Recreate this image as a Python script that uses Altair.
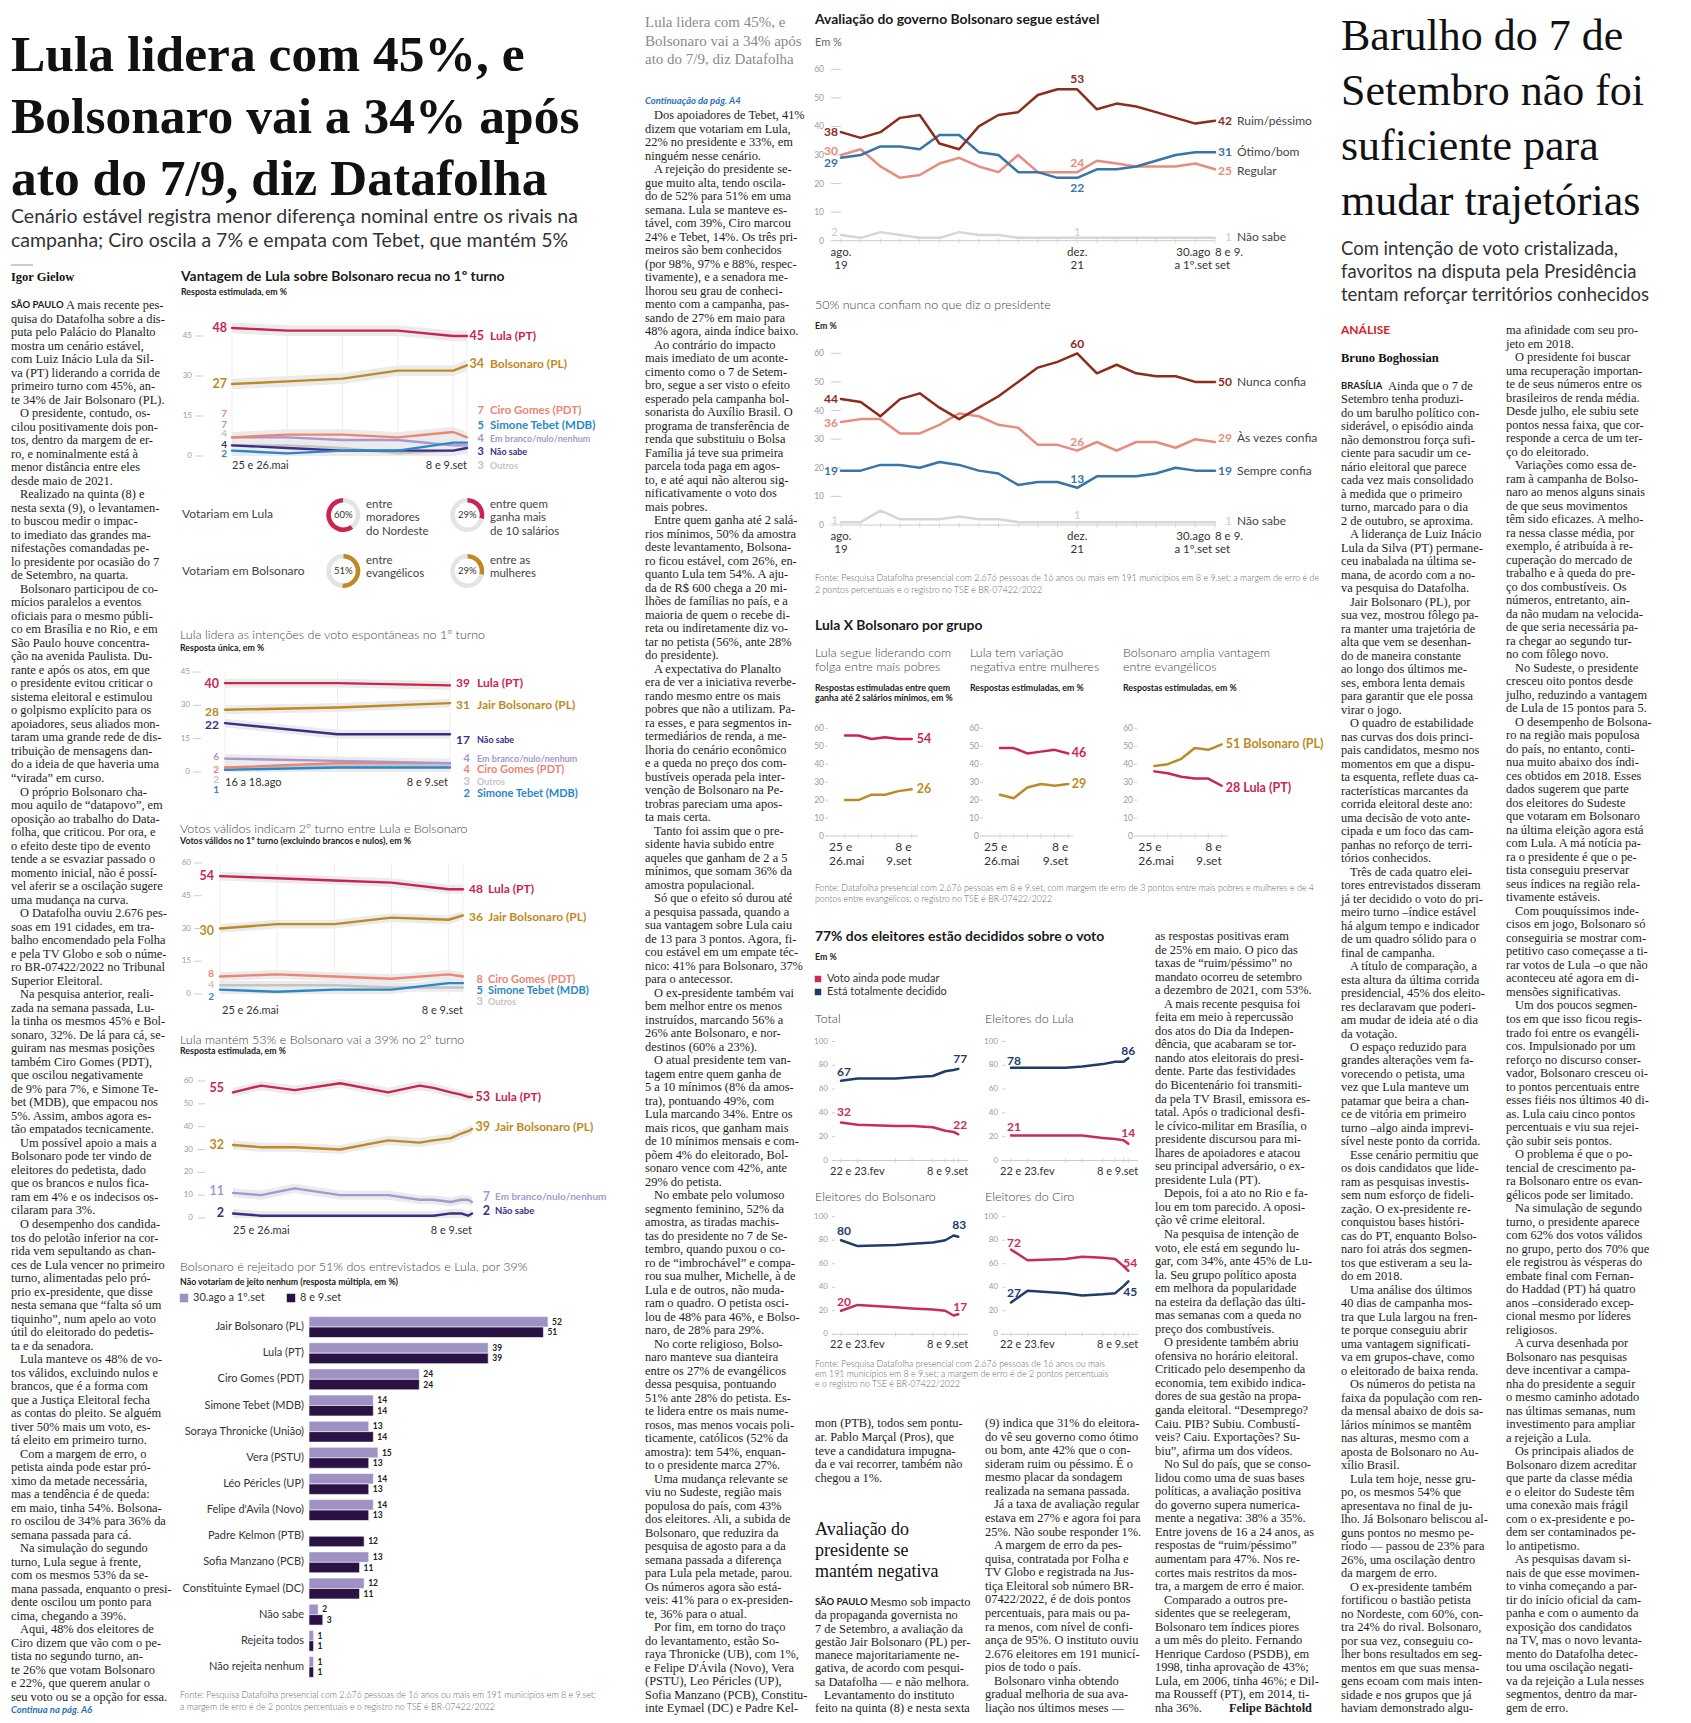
import altair as alt
import pandas as pd

# ============================ DADOS ============================
# 1) Vantagem de Lula sobre Bolsonaro recua no 1º turno (resposta estimulada, %)
g1_rodada = [0, 1, 2, 3, 4, 4.25]
g1_lula = [48, 47, 47, 47, 45, 45]
g1_bolsonaro = [27, 28, 29, 32, 32, 34]
g1_ciro = [7, 8, 8, 7, 9, 7]
g1_tebet = [2, 1, 2, 2, 5, 5]
g1_branco = [7, 7, 6, 6, 4, 4]
g1_nao_sabe = [4, 3, 2, 2, 2, 3]
g1_outros = [4, 4, 3, 1, 2, 3]

# Votariam em Lula / Bolsonaro (donuts, %)
donut_pct = [60, 29, 51, 29]

# 2) Intenções de voto espontâneas no 1º turno
g2_rodada = [0, 1, 2]
g2_lula = [40, 40, 39]
g2_bolsonaro = [28, 29, 31]
g2_nao_sabe = [22, 17, 17]
g2_branco = [6, 5, 4]
g2_ciro = [2, 4, 4]
g2_outros = [2, 3, 3]
g2_tebet = [1, 2, 2]

# 3) Votos válidos no 1º turno
g3_rodada = [0, 1, 2, 3, 4, 4.25]
g3_lula = [54, 53, 52, 51, 48, 48]
g3_bolsonaro = [30, 32, 32, 35, 34, 36]
g3_ciro = [8, 9, 8, 7, 9, 8]
g3_tebet = [2, 1, 2, 2, 5, 5]
g3_outros = [4, 4, 4, 3, 3, 3]

# 4) 2º turno
g4_datas = ["2021-05-12", "2021-07-08", "2021-09-14", "2021-12-15", "2022-03-22", "2022-05-25",
            "2022-06-22", "2022-07-27", "2022-08-17", "2022-08-31", "2022-09-08"]
g4_lula = [55, 58, 56, 59, 55, 58, 57, 55, 54, 53, 53]
g4_bolsonaro = [32, 31, 31, 30, 34, 33, 34, 35, 37, 38, 39]
g4_branco = [11, 10, 13, 10, 10, 8, 8, 7, 8, 8, 7]
g4_nao_sabe = [2, 1, 1, 1, 1, 1, 1, 2, 2, 1, 2]

# 5) Rejeição
g5_candidatos = ["Jair Bolsonaro (PL)", "Lula (PT)", "Ciro Gomes (PDT)", "Simone Tebet (MDB)",
                 "Soraya Thronicke (União)", "Vera (PSTU)", "Léo Péricles (UP)", "Felipe d'Avila (Novo)",
                 "Padre Kelmon (PTB)", "Sofia Manzano (PCB)", "Constituinte Eymael (DC)", "Não sabe",
                 "Rejeita todos", "Não rejeita nenhum"]
g5_ago = [52, 39, 24, 14, 13, 15, 14, 14, None, 13, 12, 2, 1, 1]
g5_set = [51, 39, 24, 14, 14, 13, 13, 13, 12, 11, 11, 3, 1, 1]

# 6) Avaliação do governo
g6_rodada = list(range(20))
g6_ruim = [38, 36, 38, 43, 44, 34, 32, 40, 44, 45, 51, 53, 53, 46, 48, 47, 45, 43, 41, 42]
g6_otimo = [29, 30, 33, 33, 32, 37, 37, 31, 30, 24, 24, 22, 22, 25, 25, 26, 28, 30, 31, 31]
g6_regular = [30, 32, 26, 22, 23, 27, 29, 26, 24, 30, 24, 24, 24, 28, 27, 26, 26, 26, 27, 25]
g6_nao_sabe = [2, 1, 3, 2, 1, 1, 3, 2, 2, 1, 1, 1, 1, 1, 1, 1, 1, 1, 1, 1]

# 7) Confiança no presidente
g7_nunca = [44, 43, 38, 44, 46, 41, 37, 41, 45, 50, 55, 57, 60, 53, 56, 53, 52, 52, 50, 50]
g7_as_vezes = [36, 37, 37, 32, 32, 35, 39, 38, 35, 34, 28, 28, 26, 29, 26, 29, 29, 27, 30, 29]
g7_sempre = [19, 19, 21, 21, 20, 22, 21, 19, 18, 14, 15, 15, 13, 17, 17, 17, 18, 20, 19, 19]
g7_nao_sabe = [1, 1, 5, 2, 2, 2, 3, 2, 2, 1, 1, 1, 1, 1, 1, 1, 1, 1, 1, 1]

# 8) Lula X Bolsonaro por grupo
g8_rodada = [0, 1, 2, 3, 4, 5]
g8_pobres_lula = [56, 56, 54, 55, 54, 54]
g8_pobres_bolsonaro = [20, 20, 23, 23, 25, 26]
g8_mulheres_lula = [49, 49, 46, 47, 48, 46]
g8_mulheres_bolsonaro = [23, 21, 27, 29, 28, 29]
g8_evang_bolsonaro = [39, 40, 43, 49, 48, 51]
g8_evang_lula = [36, 35, 33, 32, 32, 28]

# 9) Decisão do voto
g9_datas = ["2022-02-22", "2022-03-22", "2022-05-25", "2022-06-22", "2022-07-27", "2022-08-17",
            "2022-08-31", "2022-09-08"]
g9_total_decidido = [67, 69, 69, 70, 71, 75, 76, 77]
g9_total_mudar = [32, 30, 29, 29, 28, 25, 24, 22]
g9_lula_decidido = [78, 78, 78, 79, 81, 83, 83, 86]
g9_lula_mudar = [21, 21, 21, 21, 19, 18, 17, 14]
g9_bolso_decidido = [80, 75, 76, 77, 78, 80, 84, 83]
g9_bolso_mudar = [20, 25, 23, 22, 21, 20, 16, 17]
g9_ciro_decidido = [27, 37, 35, 33, 34, 35, 41, 45]
g9_ciro_mudar = [72, 63, 64, 66, 65, 64, 58, 54]

# ============================ TEXTOS ============================
COL_ESQ = [
"#SÃO PAULO|55|A mais recente pes-", "quisa do Datafolha sobre a dis-", "puta pelo Palácio do Planalto",
"mostra um cenário estável,", "com Luiz Inácio Lula da Sil-", "va (PT) liderando a corrida de",
"primeiro turno com 45%, an-", "te 34% de Jair Bolsonaro (PL).", ">O presidente, contudo, os-",
"cilou positivamente dois pon-", "tos, dentro da margem de er-", "ro, e nominalmente está à",
"menor distância entre eles", "desde maio de 2021.", ">Realizado na quinta (8) e",
"nesta sexta (9), o levantamen-", "to buscou medir o impac-", "to imediato das grandes ma-",
"nifestações comandadas pe-", "lo presidente por ocasião do 7", "de Setembro, na quarta.",
">Bolsonaro participou de co-", "mícios paralelos a eventos", "oficiais para o mesmo públi-",
"co em Brasília e no Rio, e em", "São Paulo houve concentra-", "ção na avenida Paulista. Du-",
"rante e após os atos, em que", "o presidente evitou criticar o", "sistema eleitoral e estimulou",
"o golpismo explícito para os", "apoiadores, seus aliados mon-", "taram uma grande rede de dis-",
"tribuição de mensagens dan-", "do a ideia de que haveria uma", "“virada” em curso.",
">O próprio Bolsonaro cha-", "mou aquilo de “datapovo”, em", "oposição ao trabalho do Data-",
"folha, que criticou. Por ora, e", "o efeito deste tipo de evento", "tende a se esvaziar passado o",
"momento inicial, não é possí-", "vel aferir se a oscilação sugere", "uma mudança na curva.",
">O Datafolha ouviu 2.676 pes-", "soas em 191 cidades, em tra-", "balho encomendado pela Folha",
"e pela TV Globo e sob o núme-", "ro BR-07422/2022 no Tribunal", "Superior Eleitoral.",
">Na pesquisa anterior, reali-", "zada na semana passada, Lu-", "la tinha os mesmos 45% e Bol-",
"sonaro, 32%. De lá para cá, se-", "guiram nas mesmas posições", "também Ciro Gomes (PDT),",
"que oscilou negativamente", "de 9% para 7%, e Simone Te-", "bet (MDB), que empacou nos",
"5%. Assim, ambos agora es-", "tão empatados tecnicamente.", ">Um possível apoio a mais a",
"Bolsonaro pode ter vindo de", "eleitores do pedetista, dado", "que os brancos e nulos fica-",
"ram em 4% e os indecisos os-", "cilaram para 3%.", ">O desempenho dos candida-",
"tos do pelotão inferior na cor-", "rida vem sepultando as chan-", "ces de Lula vencer no primeiro",
"turno, alimentadas pelo pró-", "prio ex-presidente, que disse", "nesta semana que “falta só um",
"tiquinho”, num apelo ao voto", "útil do eleitorado do pedetis-", "ta e da senadora.",
">Lula manteve os 48% de vo-", "tos válidos, excluindo nulos e", "brancos, que é a forma com",
"que a Justiça Eleitoral fecha", "as contas do pleito. Se alguém", "tiver 50% mais um voto, es-",
"tá eleito em primeiro turno.", ">Com a margem de erro, o", "petista ainda pode estar pró-",
"ximo da metade necessária,", "mas a tendência é de queda:", "em maio, tinha 54%. Bolsona-",
"ro oscilou de 34% para 36% da", "semana passada para cá.", ">Na simulação do segundo",
"turno, Lula segue à frente,", "com os mesmos 53% da se-", "mana passada, enquanto o presi-",
"dente oscilou um ponto para", "cima, chegando a 39%.", ">Aqui, 48% dos eleitores de",
"Ciro dizem que vão com o pe-", "tista no segundo turno, an-", "te 26% que votam Bolsonaro",
"e 22%, que querem anular o", "seu voto ou se a opção for essa.",
]

COL_MEIO = [
">Dos apoiadores de Tebet, 41%", "dizem que votariam em Lula,", "22% no presidente e 33%, em",
"ninguém nesse cenário.", ">A rejeição do presidente se-", "gue muito alta, tendo oscila-",
"do de 52% para 51% em uma", "semana. Lula se manteve es-", "tável, com 39%, Ciro marcou",
"24% e Tebet, 14%. Os três pri-", "meiros são bem conhecidos", "(por 98%, 97% e 88%, respec-",
"tivamente), e a senadora me-", "lhorou seu grau de conheci-", "mento com a campanha, pas-",
"sando de 27% em maio para", "48% agora, ainda índice baixo.", ">Ao contrário do impacto",
"mais imediato de um aconte-", "cimento como o 7 de Setem-", "bro, segue a ser visto o efeito",
"esperado pela campanha bol-", "sonarista do Auxílio Brasil. O", "programa de transferência de",
"renda que substituiu o Bolsa", "Família já teve sua primeira", "parcela toda paga em agos-",
"to, e até aqui não alterou sig-", "nificativamente o voto dos", "mais pobres.",
">Entre quem ganha até 2 salá-", "rios mínimos, 50% da amostra", "deste levantamento, Bolsona-",
"ro ficou estável, com 26%, en-", "quanto Lula tem 54%. A aju-", "da de R$ 600 chega a 20 mi-",
"lhões de famílias no país, e a", "maioria de quem o recebe di-", "reta ou indiretamente diz vo-",
"tar no petista (56%, ante 28%", "do presidente).", ">A expectativa do Planalto",
"era de ver a iniciativa reverbe-", "rando mesmo entre os mais", "pobres que não a utilizam. Pa-",
"ra esses, e para segmentos in-", "termediários de renda, a me-", "lhoria do cenário econômico",
"e a queda no preço dos com-", "bustíveis operada pela inter-", "venção de Bolsonaro na Pe-",
"trobras pareciam uma apos-", "ta mais certa.", ">Tanto foi assim que o pre-",
"sidente havia subido entre", "aqueles que ganham de 2 a 5", "mínimos, que somam 36% da",
"amostra populacional.", ">Só que o efeito só durou até", "a pesquisa passada, quando a",
"sua vantagem sobre Lula caiu", "de 13 para 3 pontos. Agora, fi-", "cou estável em um empate téc-",
"nico: 41% para Bolsonaro, 37%", "para o antecessor.", ">O ex-presidente também vai",
"bem melhor entre os menos", "instruídos, marcando 56% a", "26% ante Bolsonaro, e nor-",
"destinos (60% a 23%).", ">O atual presidente tem van-", "tagem entre quem ganha de",
"5 a 10 mínimos (8% da amos-", "tra), pontuando 49%, com", "Lula marcando 34%. Entre os",
"mais ricos, que ganham mais", "de 10 mínimos mensais e com-", "põem 4% do eleitorado, Bol-",
"sonaro vence com 42%, ante", "29% do petista.", ">No embate pelo volumoso",
"segmento feminino, 52% da", "amostra, as tiradas machis-", "tas do presidente no 7 de Se-",
"tembro, quando puxou o co-", "ro de “imbrochável” e compa-", "rou sua mulher, Michelle, à de",
"Lula e de outros, não muda-", "ram o quadro. O petista osci-", "lou de 48% para 46%, e Bolso-",
"naro, de 28% para 29%.", ">No corte religioso, Bolso-", "naro manteve sua dianteira",
"entre os 27% de evangélicos", "dessa pesquisa, pontuando", "51% ante 28% do petista. Es-",
"te lidera entre os mais nume-", "rosos, mas menos vocais poli-", "ticamente, católicos (52% da",
"amostra): tem 54%, enquan-", "to o presidente marca 27%.", ">Uma mudança relevante se",
"viu no Sudeste, região mais", "populosa do país, com 43%", "dos eleitores. Ali, a subida de",
"Bolsonaro, que reduzira da", "pesquisa de agosto para a da", "semana passada a diferença",
"para Lula pela metade, parou.", "Os números agora são está-", "veis: 41% para o ex-presiden-",
"te, 36% para o atual.", ">Por fim, em torno do traço", "do levantamento, estão So-",
"raya Thronicke (UB), com 1%,", "e Felipe D'Ávila (Novo), Vera", "(PSTU), Leo Péricles (UP),",
"Sofia Manzano (PCB), Constitu-", "inte Eymael (DC) e Padre Kel-",
]

COL_C = [
"as respostas positivas eram", "de 25% em maio. O pico das", "taxas de “ruim/péssimo” no",
"mandato ocorreu de setembro", "a dezembro de 2021, com 53%.", ">A mais recente pesquisa foi",
"feita em meio à repercussão", "dos atos do Dia da Indepen-", "dência, que acabaram se tor-",
"nando atos eleitorais do presi-", "dente. Parte das festividades", "do Bicentenário foi transmiti-",
"da pela TV Brasil, emissora es-", "tatal. Após o tradicional desfi-", "le cívico-militar em Brasília, o",
"presidente discursou para mi-", "lhares de apoiadores e atacou", "seu principal adversário, o ex-",
"presidente Lula (PT).", ">Depois, foi a ato no Rio e fa-", "lou em tom parecido. A oposi-",
"ção vê crime eleitoral.", ">Na pesquisa de intenção de", "voto, ele está em segundo lu-",
"gar, com 34%, ante 45% de Lu-", "la. Seu grupo político aposta", "em melhora da popularidade",
"na esteira da deflação das últi-", "mas semanas com a queda no", "preço dos combustíveis.",
">O presidente também abriu", "ofensiva no horário eleitoral.", "Criticado pelo desempenho da",
"economia, tem exibido indica-", "dores de sua gestão na propa-", "ganda eleitoral. “Desemprego?",
"Caiu. PIB? Subiu. Combustí-", "veis? Caiu. Exportações? Su-", "biu”, afirma um dos vídeos.",
">No Sul do país, que se conso-", "lidou como uma de suas bases", "políticas, a avaliação positiva",
"do governo supera numerica-", "mente a negativa: 38% a 35%.", "Entre jovens de 16 a 24 anos, as",
"respostas de “ruim/péssimo”", "aumentam para 47%. Nos re-", "cortes mais restritos da mos-",
"tra, a margem de erro é maior.", ">Comparado a outros pre-", "sidentes que se reelegeram,",
"Bolsonaro tem índices piores", "a um mês do pleito. Fernando", "Henrique Cardoso (PSDB), em",
"1998, tinha aprovação de 43%;", "Lula, em 2006, tinha 46%; e Dil-", "ma Rousseff (PT), em 2014, ti-",
"nha 36%.",
]

COL_A1 = ["mon (PTB), todos sem pontu-", "ar. Pablo Marçal (Pros), que", "teve a candidatura impugna-",
          "da e vai recorrer, também não", "chegou a 1%."]
COL_A2 = ["#SÃO PAULO|55|Mesmo sob impacto", "da propaganda governista no", "7 de Setembro, a avaliação da",
          "gestão Jair Bolsonaro (PL) per-", "manece majoritariamente ne-", "gativa, de acordo com pesqui-",
          "sa Datafolha — e não melhora.", ">Levantamento do instituto", "feito na quinta (8) e nesta sexta"]
COL_B = [
"(9) indica que 31% do eleitora-", "do vê seu governo como ótimo", "ou bom, ante 42% que o con-",
"sideram ruim ou péssimo. É o", "mesmo placar da sondagem", "realizada na semana passada.",
">Já a taxa de avaliação regular", "estava em 27% e agora foi para", "25%. Não soube responder 1%.",
">A margem de erro da pes-", "quisa, contratada por Folha e", "TV Globo e registrada na Jus-",
"tiça Eleitoral sob número BR-", "07422/2022, é de dois pontos", "percentuais, para mais ou pa-",
"ra menos, com nível de confi-", "ança de 95%. O instituto ouviu", "2.676 eleitores em 191 municí-",
"pios de todo o país.", ">Bolsonaro vinha obtendo", "gradual melhoria de sua ava-",
"liação nos últimos meses —",
]

COL_R1 = [
"#BRASÍLIA|47|Ainda que o 7 de", "Setembro tenha produzi-", "do um barulho político con-",
"siderável, o episódio ainda", "não demonstrou força sufi-", "ciente para sacudir um ce-",
"nário eleitoral que parece", "cada vez mais consolidado", "à medida que o primeiro",
"turno, marcado para o dia", "2 de outubro, se aproxima.", ">A liderança de Luiz Inácio",
"Lula da Silva (PT) permane-", "ceu inabalada na última se-", "mana, de acordo com a no-",
"va pesquisa do Datafolha.", ">Jair Bolsonaro (PL), por", "sua vez, mostrou fôlego pa-",
"ra manter uma trajetória de", "alta que vem se desenhan-", "do de maneira constante",
"ao longo dos últimos me-", "ses, embora lenta demais", "para garantir que ele possa",
"virar o jogo.", ">O quadro de estabilidade", "nas curvas dos dois princi-",
"pais candidatos, mesmo nos", "momentos em que a dispu-", "ta esquenta, reflete duas ca-",
"racterísticas marcantes da", "corrida eleitoral deste ano:", "uma decisão de voto ante-",
"cipada e um foco das cam-", "panhas no reforço de terri-", "tórios conhecidos.",
">Três de cada quatro elei-", "tores entrevistados disseram", "já ter decidido o voto do pri-",
"meiro turno –índice estável", "há algum tempo e indicador", "de um quadro sólido para o",
"final de campanha.", ">A título de comparação, a", "esta altura da última corrida",
"presidencial, 45% dos eleito-", "res declaravam que poderi-", "am mudar de ideia até o dia",
"da votação.", ">O espaço reduzido para", "grandes alterações vem fa-",
"vorecendo o petista, uma", "vez que Lula manteve um", "patamar que beira a chan-",
"ce de vitória em primeiro", "turno –algo ainda imprevi-", "sível neste ponto da corrida.",
">Esse cenário permitiu que", "os dois candidatos que lide-", "ram as pesquisas investis-",
"sem num esforço de fideli-", "zação. O ex-presidente re-", "conquistou bases históri-",
"cas do PT, enquanto Bolso-", "naro foi atrás dos segmen-", "tos que estiveram a seu la-",
"do em 2018.", ">Uma análise dos últimos", "40 dias de campanha mos-",
"tra que Lula largou na fren-", "te porque conseguiu abrir", "uma vantagem significati-",
"va em grupos-chave, como", "o eleitorado de baixa renda.", ">Os números do petista na",
"faixa da população com ren-", "da mensal abaixo de dois sa-", "lários mínimos se mantêm",
"nas alturas, mesmo com a", "aposta de Bolsonaro no Au-", "xílio Brasil.",
">Lula tem hoje, nesse gru-", "po, os mesmos 54% que", "apresentava no final de ju-",
"lho. Já Bolsonaro beliscou al-", "guns pontos no mesmo pe-", "ríodo — passou de 23% para",
"26%, uma oscilação dentro", "da margem de erro.", ">O ex-presidente também",
"fortificou o bastião petista", "no Nordeste, com 60%, con-", "tra 24% do rival. Bolsonaro,",
"por sua vez, conseguiu co-", "lher bons resultados em seg-", "mentos em que suas mensa-",
"gens ecoam com mais inten-", "sidade e nos grupos que já", "haviam demonstrado algu-",
]

COL_R2 = [
"ma afinidade com seu pro-", "jeto em 2018.", ">O presidente foi buscar",
"uma recuperação importan-", "te de seus números entre os", "brasileiros de renda média.",
"Desde julho, ele subiu sete", "pontos nessa faixa, que cor-", "responde a cerca de um ter-",
"ço do eleitorado.", ">Variações como essa de-", "ram à campanha de Bolso-",
"naro ao menos alguns sinais", "de que seus movimentos", "têm sido eficazes. A melho-",
"ra nessa classe média, por", "exemplo, é atribuída à re-", "cuperação do mercado de",
"trabalho e à queda do pre-", "ço dos combustíveis. Os", "números, entretanto, ain-",
"da não mudam na velocida-", "de que seria necessária pa-", "ra chegar ao segundo tur-",
"no com fôlego novo.", ">No Sudeste, o presidente", "cresceu oito pontos desde",
"julho, reduzindo a vantagem", "de Lula de 15 pontos para 5.", ">O desempenho de Bolsona-",
"ro na região mais populosa", "do país, no entanto, conti-", "nua muito abaixo dos índi-",
"ces obtidos em 2018. Esses", "dados sugerem que parte", "dos eleitores do Sudeste",
"que votaram em Bolsonaro", "na última eleição agora está", "com Lula. A má notícia pa-",
"ra o presidente é que o pe-", "tista conseguiu preservar", "seus índices na região rela-",
"tivamente estáveis.", ">Com pouquíssimos inde-", "cisos em jogo, Bolsonaro só",
"conseguiria se mostrar com-", "petitivo caso começasse a ti-", "rar votos de Lula –o que não",
"aconteceu até agora em di-", "mensões significativas.", ">Um dos poucos segmen-",
"tos em que isso ficou regis-", "trado foi entre os evangéli-", "cos. Impulsionado por um",
"reforço no discurso conser-", "vador, Bolsonaro cresceu oi-", "to pontos percentuais entre",
"esses fiéis nos últimos 40 di-", "as. Lula caiu cinco pontos", "percentuais e viu sua rejei-",
"ção subir seis pontos.", ">O problema é que o po-", "tencial de crescimento pa-",
"ra Bolsonaro entre os evan-", "gélicos pode ser limitado.", ">Na simulação de segundo",
"turno, o presidente aparece", "com 62% dos votos válidos", "no grupo, perto dos 70% que",
"ele registrou às vésperas do", "embate final com Fernan-", "do Haddad (PT) há quatro",
"anos –considerado excep-", "cional mesmo por líderes", "religiosos.",
">A curva desenhada por", "Bolsonaro nas pesquisas", "deve incentivar a campa-",
"nha do presidente a seguir", "o mesmo caminho adotado", "nas últimas semanas, num",
"investimento para ampliar", "a rejeição a Lula.", ">Os principais aliados de",
"Bolsonaro dizem acreditar", "que parte da classe média", "e o eleitor do Sudeste têm",
"uma conexão mais frágil", "com o ex-presidente e po-", "dem ser contaminados pe-",
"lo antipetismo.", ">As pesquisas davam si-", "nais de que esse movimen-",
"to vinha começando a par-", "tir do início oficial da cam-", "panha e com o aumento da",
"exposição dos candidatos", "na TV, mas o novo levanta-", "mento do Datafolha detec-",
"tou uma oscilação negati-", "va da rejeição a Lula nesses", "segmentos, dentro da mar-",
"gem de erro.",
]

# ============================ ESTILO / LAYOUT ============================
W, H = 1675, 1707
SANS = "Lato"
SERIF = "Liberation Serif"
LULA = "#c8264f"; BOLSO = "#bd8a24"; CIRO = "#ec8574"; TEBET = "#2b87c6"
BRANCO = "#a897cd"; NSABE = "#3f2c85"; OUTROS = "#c4c4c4"
RUIM = "#8d2b1c"; OTIMO = "#3874a7"; REGULAR = "#e88c7e"; NSGRAY = "#d6d6d6"
MUDAR = "#c72d55"; DECIDIDO = "#1d3d6b"
BAR_A = "#9e91c4"; BAR_B = "#2a1244"
BLUE_LINK = "#2d6fb7"


def px(x):
    return x - 8


def py(y):
    return y - 8


def T(items, fs, font=SANS, fw="normal", color="#222222", align="left", baseline="middle", style="normal"):
    df = pd.DataFrame([{"x": px(x), "y": py(y), "t": t} for x, y, t in items])
    return alt.Chart(df).mark_text(align=align, baseline=baseline, fontSize=fs, font=font, fontWeight=fw,
                                   color=color, fontStyle=style).encode(
        x=alt.X("x:Q", scale=None, axis=None), y=alt.Y("y:Q", scale=None, axis=None), text="t:N")


def body(lines, x, y0, y1, fs=12.4, indent=9):
    n = len(lines)
    step = (y1 - y0) / (n - 1) if n > 1 else 0
    reg, bold = [], []
    for i, ln in enumerate(lines):
        y = y0 + i * step
        if ln.startswith("#"):
            lead, w, rest = ln[1:].split("|")
            bold.append((x, y, lead))
            reg.append((x + float(w), y, rest))
        elif ln.startswith(">"):
            reg.append((x + indent, y, ln[1:]))
        else:
            reg.append((x, y, ln))
    out = [T(reg, fs, font=SERIF, color="#1c1c1c")]
    if bold:
        out.append(T(bold, 9.5, font=SANS, fw="bold", color="#1c1c1c"))
    return out, step


def line_panel(series, xvals, xr, ydom, yr, ticks=None, tick_lx=None, dash=None, band=False,
               grid=False, base=None, base_ticks=False, lw=2.4, tick_fs=8):
    xsc = alt.Scale(domain=[min(xvals), max(xvals)], range=[px(xr[0]), px(xr[1])], nice=False, zero=False)
    ysc = alt.Scale(domain=list(ydom), range=[py(yr[0]), py(yr[1])], nice=False, zero=False)
    XE = alt.X("x:Q", scale=xsc, axis=None)
    rows = [{"s": n, "x": xv, "v": v} for n, vals, c in series for xv, v in zip(xvals, vals)]
    df = pd.DataFrame(rows)
    L = []
    if ticks:
        tdf = pd.DataFrame({"t": ticks})
        YT = alt.Y("t:Q", scale=ysc, axis=None)
        if dash:
            L.append(alt.Chart(tdf).mark_rule(color="#cccccc", strokeWidth=1).encode(
                y=YT, x=alt.value(px(dash[0])), x2=alt.value(px(dash[1]))))
        L.append(alt.Chart(tdf).mark_text(align="right", baseline="middle", font=SANS, fontSize=tick_fs,
                                          color="#9b9b9b").encode(y=YT, x=alt.value(px(tick_lx)), text="t:Q"))
    if grid:
        gdf = pd.DataFrame({"x": xvals, "y0": ydom[0], "y1": ydom[1]})
        L.append(alt.Chart(gdf).mark_rule(color="#ededed", strokeWidth=1).encode(
            x=XE, y=alt.Y("y0:Q", scale=ysc, axis=None), y2="y1:Q"))
    if band:
        L.append(alt.Chart(df).transform_calculate(lo=f"max(datum.v - 2, {ydom[0]})", hi="datum.v + 2")
                 .mark_area(color="#ebebeb").encode(x=XE, y=alt.Y("lo:Q", scale=ysc, axis=None), y2="hi:Q",
                                                    detail="s:N"))
    if base:
        bdf = pd.DataFrame({"y": [ydom[0]]})
        L.append(alt.Chart(bdf).mark_rule(color="#cccccc", strokeWidth=1).encode(
            y=alt.Y("y:Q", scale=ysc, axis=None), x=alt.value(px(base[0])), x2=alt.value(px(base[1]))))
    if base_ticks:
        tk = pd.DataFrame({"x": xvals, "y": ydom[0]})
        L.append(alt.Chart(tk).mark_tick(orient="vertical", size=5, thickness=1, color="#cccccc").encode(
            x=XE, y=alt.Y("y:Q", scale=ysc, axis=None)))
    for n, vals, c in series:
        L.append(alt.Chart(df[df.s == n]).mark_line(color=c, strokeWidth=lw, strokeJoin="round",
                                                    strokeCap="round").encode(
            x=XE, y=alt.Y("v:Q", scale=ysc, axis=None)))
    return L, xsc, ysc


def lab(xsc, ysc, xv, v, text, color, dx=0, dy=0, align="left", fs=12, fw="bold"):
    d = pd.DataFrame({"x": [xv], "v": [v], "t": [str(text)]})
    return alt.Chart(d).mark_text(align=align, baseline="middle", dx=dx, dy=dy, fontSize=fs, fontWeight=fw,
                                  font=SANS, color=color).encode(
        x=alt.X("x:Q", scale=xsc, axis=None), y=alt.Y("v:Q", scale=ysc, axis=None), text="t:N")


def xlab(xsc, xv, ypage, text, align, fs=11, dx=0, color="#333333"):
    d = pd.DataFrame({"x": [xv], "t": [text]})
    return alt.Chart(d).mark_text(align=align, baseline="middle", dx=dx, fontSize=fs, font=SANS,
                                  color=color).encode(
        x=alt.X("x:Q", scale=xsc, axis=None), y=alt.value(py(ypage)), text="t:N")


def days(ds):
    d = pd.to_datetime(pd.Series(ds))
    return [int((v - d.iloc[0]).days) for v in d]


items = []

# ---------------- Painel 1
S1 = [("Outros", g1_outros, OUTROS), ("Não sabe", g1_nao_sabe, NSABE), ("Em branco", g1_branco, BRANCO),
      ("Tebet", g1_tebet, TEBET), ("Ciro", g1_ciro, CIRO), ("Bolsonaro", g1_bolsonaro, BOLSO),
      ("Lula", g1_lula, LULA)]
L, xs, ys = line_panel(S1, g1_rodada, (232, 467), (0, 45), (456, 336), ticks=[0, 15, 30, 45], tick_lx=192,
                       dash=(195, 203), band=True, grid=True)
D = {n: (v, c) for n, v, c in S1}
for n, dy, fs in [("Lula", 0, 12.5), ("Bolsonaro", 0, 12.5), ("Ciro", -23, 10), ("Em branco", -12.5, 10),
                  ("Outros", -11.5, 10), ("Não sabe", -0.5, 10), ("Tebet", 3.5, 10)]:
    v, c = D[n]
    L.append(lab(xs, ys, g1_rodada[0], v[0], v[0], c, dx=-5, dy=dy, align="right", fs=fs))
for n, dy, name, nfs in [("Lula", 0, "Lula (PT)", 12), ("Bolsonaro", -1, "Bolsonaro (PL)", 12),
                         ("Ciro", -26, "Ciro Gomes (PDT)", 11.5), ("Tebet", -17, "Simone Tebet (MDB)", 11.5),
                         ("Em branco", -6, "Em branco/nulo/nenhum", 9), ("Não sabe", 4, "Não sabe", 9),
                         ("Outros", 18, "Outros", 9)]:
    v, c = D[n]
    L.append(lab(xs, ys, g1_rodada[-1], v[-1], v[-1], c, dx=17, dy=dy, align="right",
                 fs=12.5 if n in ("Lula", "Bolsonaro") else 11))
    L.append(lab(xs, ys, g1_rodada[-1], v[-1], name, c, dx=23, dy=dy, align="left", fs=nfs))
L.append(xlab(xs, g1_rodada[0], 466, "25 e 26.mai", "left"))
L.append(xlab(xs, g1_rodada[-1], 466, "8 e 9.set", "right"))
items.append(alt.layer(*L))

# ---------------- Painel 2
S2 = [("Outros", g2_outros, OUTROS), ("Tebet", g2_tebet, TEBET), ("Ciro", g2_ciro, CIRO),
      ("Em branco", g2_branco, BRANCO), ("Não sabe", g2_nao_sabe, NSABE), ("Bolsonaro", g2_bolsonaro, BOLSO),
      ("Lula", g2_lula, LULA)]
L, xs, ys = line_panel(S2, g2_rodada, (225, 450), (0, 45), (772, 672), ticks=[0, 15, 30, 45], tick_lx=190,
                       dash=(193, 201), band=True, grid=True)
D = {n: (v, c) for n, v, c in S2}
for n, dy, fs in [("Lula", 1, 12.5), ("Bolsonaro", 2, 12), ("Não sabe", 2, 12), ("Em branco", -2, 10),
                  ("Ciro", 2, 10), ("Outros", 12, 10), ("Tebet", 20, 10)]:
    v, c = D[n]
    L.append(lab(xs, ys, g2_rodada[0], v[0], v[0], c, dx=-6, dy=dy, align="right", fs=fs))
for n, dy, name, nfs in [("Lula", -2, "Lula (PT)", 12), ("Bolsonaro", 2, "Jair Bolsonaro (PL)", 12),
                         ("Não sabe", 6, "Não sabe", 9), ("Em branco", -4.5, "Em branco/nulo/nenhum", 9),
                         ("Ciro", 7, "Ciro Gomes (PDT)", 11), ("Outros", 17, "Outros", 9),
                         ("Tebet", 26, "Simone Tebet (MDB)", 11)]:
    v, c = D[n]
    L.append(lab(xs, ys, g2_rodada[-1], v[-1], v[-1], c, dx=20, dy=dy, align="right",
                 fs=12 if n in ("Lula", "Bolsonaro", "Não sabe") else 11))
    L.append(lab(xs, ys, g2_rodada[-1], v[-1], name, c, dx=27, dy=dy, align="left", fs=nfs))
L.append(xlab(xs, g2_rodada[0], 783, "16 a 18.ago", "left"))
L.append(xlab(xs, g2_rodada[-1], 783, "8 e 9.set", "right", dx=-2))
items.append(alt.layer(*L))

# ---------------- Painel 3
S3 = [("Outros", g3_outros, OUTROS), ("Tebet", g3_tebet, TEBET), ("Ciro", g3_ciro, CIRO),
      ("Bolsonaro", g3_bolsonaro, BOLSO), ("Lula", g3_lula, LULA)]
L, xs, ys = line_panel(S3, g3_rodada, (220, 463), (0, 60), (994, 863), ticks=[0, 15, 30, 45, 60],
                       tick_lx=191, dash=(194, 202), band=True, grid=True)
D = {n: (v, c) for n, v, c in S3}
for n, dy, fs in [("Lula", 0, 12.5), ("Bolsonaro", 2, 12.5), ("Ciro", -3, 10), ("Outros", 0, 10),
                  ("Tebet", 7, 10)]:
    v, c = D[n]
    L.append(lab(xs, ys, g3_rodada[0], v[0], v[0], c, dx=-6, dy=dy, align="right", fs=fs))
for n, dy, name, nfs in [("Lula", 0, "Lula (PT)", 12), ("Bolsonaro", 1.5, "Jair Bolsonaro (PL)", 12),
                         ("Ciro", 3, "Ciro Gomes (PDT)", 11), ("Tebet", 8, "Simone Tebet (MDB)", 11),
                         ("Outros", 15, "Outros", 9)]:
    v, c = D[n]
    L.append(lab(xs, ys, g3_rodada[-1], v[-1], v[-1], c, dx=20, dy=dy, align="right",
                 fs=12 if n in ("Lula", "Bolsonaro") else 11))
    L.append(lab(xs, ys, g3_rodada[-1], v[-1], name, c, dx=25, dy=dy, align="left", fs=nfs))
L.append(xlab(xs, g3_rodada[0], 1011, "25 e 26.mai", "left", dx=2))
L.append(xlab(xs, g3_rodada[-1], 1011, "8 e 9.set", "right"))
items.append(alt.layer(*L))

# ---------------- Painel 4
g4_x = days(g4_datas)
S4 = [("Não sabe", g4_nao_sabe, NSABE), ("Em branco", g4_branco, BRANCO), ("Bolsonaro", g4_bolsonaro, BOLSO),
      ("Lula", g4_lula, LULA)]
L, xs, ys = line_panel(S4, g4_x, (233, 472), (0, 60), (1218, 1081), ticks=[0, 10, 20, 30, 40, 50, 60],
                       tick_lx=193, dash=(198, 205), band=True)
D = {n: (v, c) for n, v, c in S4}
for n, dy in [("Lula", -4), ("Bolsonaro", 0), ("Em branco", -2), ("Não sabe", 0)]:
    v, c = D[n]
    L.append(lab(xs, ys, g4_x[0], v[0], v[0], c, dx=-9, dy=dy, align="right", fs=12.5))
for n, dy, name, nfs in [("Lula", 0, "Lula (PT)", 12), ("Bolsonaro", -1.5, "Jair Bolsonaro (PL)", 12),
                         ("Em branco", -5.5, "Em branco/nulo/nenhum", 10), ("Não sabe", -2, "Não sabe", 9.5)]:
    v, c = D[n]
    L.append(lab(xs, ys, g4_x[-1], v[-1], v[-1], c, dx=18, dy=dy, align="right", fs=12.5))
    L.append(lab(xs, ys, g4_x[-1], v[-1], name, c, dx=23, dy=dy, align="left", fs=nfs))
L.append(xlab(xs, g4_x[0], 1231, "25 e 26.mai", "left"))
L.append(xlab(xs, g4_x[-1], 1231, "8 e 9.set", "right"))
items.append(alt.layer(*L))

# ---------------- Painel 5 (barras)
rows = [{"c": c, "p": "a", "v": a} for c, a in zip(g5_candidatos, g5_ago) if a is not None]
rows += [{"c": c, "p": "b", "v": b} for c, b in zip(g5_candidatos, g5_set)]
bdf = pd.DataFrame(rows)
bx = alt.Scale(domain=[0, 52], range=[px(309), px(548)], nice=False, zero=True)
by = alt.Scale(domain=g5_candidatos, range=[py(1314), py(1680)], paddingInner=0.2, paddingOuter=0.1)
bo = alt.Scale(domain=["a", "b"], paddingInner=0, paddingOuter=0)
BX = alt.X("v:Q", scale=bx, axis=None)
BY = alt.Y("c:N", scale=by, axis=None)
BO = alt.YOffset("p:N", scale=bo)
bars = alt.Chart(bdf).mark_bar(stroke="white", strokeWidth=0.6).encode(
    x=BX, y=BY, yOffset=BO,
    color=alt.Color("p:N", scale=alt.Scale(domain=["a", "b"], range=[BAR_A, BAR_B]), legend=None))
btxt = alt.Chart(bdf).mark_text(align="left", baseline="middle", dx=4, fontSize=8.5, fontWeight="bold",
                                font=SANS, color="#222222").encode(x=BX, y=BY, yOffset=BO, text="v:Q")
bcat = alt.Chart(pd.DataFrame({"c": g5_candidatos})).mark_text(
    align="right", baseline="middle", fontSize=11, font=SANS, color="#333333").encode(
    y=BY, x=alt.value(px(304)), text="c:N")
items.append(alt.layer(bars, btxt, bcat))
for cx, col in [(184, BAR_A), (291, BAR_B)]:
    items.append(alt.Chart(pd.DataFrame({"k": [1]})).mark_square(size=72, color=col, opacity=1).encode(
        x=alt.value(px(cx)), y=alt.value(py(1298))))

# ---------------- Donuts
GRAYR = "#e4e4e4"
for (cx, cy, col, first_gray), pct in zip([(343.3, 515, LULA, True), (467.3, 515, LULA, False),
                                            (343.3, 571, BOLSO, False), (467.3, 571, BOLSO, False)], donut_pct):
    order = [1, 0] if first_gray else [0, 1]
    d = pd.DataFrame({"val": [pct, 100 - pct], "o": order, "c": [col, GRAYR]})
    items.append(alt.Chart(d).mark_arc(innerRadius=12.4, outerRadius=17).encode(
        theta=alt.Theta("val:Q", stack=True), order=alt.Order("o:Q"), color=alt.Color("c:N", scale=None),
        x=alt.value(px(cx)), y=alt.value(py(cy))))
    items.append(alt.Chart(pd.DataFrame({"t": [f"{pct}%"]})).mark_text(
        align="center", baseline="middle", fontSize=9.5, font=SANS, color="#333333").encode(
        x=alt.value(px(cx)), y=alt.value(py(cy)), text="t:N"))

# ---------------- Painel 6 (avaliação)
S6 = [("NS", g6_nao_sabe, NSGRAY), ("Regular", g6_regular, REGULAR), ("Ótimo", g6_otimo, OTIMO),
      ("Ruim", g6_ruim, RUIM)]
L, xs, ys = line_panel(S6, g6_rodada, (841, 1215), (0, 60), (240.7, 69.3), ticks=[0, 10, 20, 30, 40, 50, 60],
                       tick_lx=824, dash=(831, 841), base=(841, 1215), base_ticks=True, lw=2.5, tick_fs=8.5)
D = {n: (v, c) for n, v, c in S6}
for n, dy in [("Ruim", 0), ("Regular", -4), ("Ótimo", 5.5), ("NS", -3)]:
    v, c = D[n]
    L.append(lab(xs, ys, 0, v[0], v[0], "#cccccc" if n == "NS" else c, dx=-3, dy=dy, align="right", fs=12,
                 fw="normal" if n == "NS" else "bold"))
for n, dy in [("Ruim", -10), ("Regular", -9), ("Ótimo", 10), ("NS", -6)]:
    v, c = D[n]
    L.append(lab(xs, ys, 12, v[12], v[12], "#cccccc" if n == "NS" else c, dy=dy, align="center", fs=12,
                 fw="normal" if n == "NS" else "bold"))
for n, dy, name in [("Ruim", 0, "Ruim/péssimo"), ("Ótimo", 0, "Ótimo/bom"), ("Regular", 2, "Regular"),
                    ("NS", -1, "Não sabe")]:
    v, c = D[n]
    L.append(lab(xs, ys, 19, v[-1], v[-1], "#cccccc" if n == "NS" else c, dx=17, dy=dy, align="right",
                 fs=12, fw="normal" if n == "NS" else "bold"))
    L.append(lab(xs, ys, 19, v[-1], name, "#444444", dx=22, dy=dy, align="left", fs=12, fw="normal"))
for xv, t1, t2, al, dx in [(0, "ago.", "19", "center", 0), (12, "dez.", "21", "center", 0),
                           (18, "30.ago", "a 1º.set", "center", -2), (19, "8 e 9.", "set", "left", 0)]:
    L.append(xlab(xs, xv, 253, t1, al, fs=11.5, dx=dx))
    L.append(xlab(xs, xv, 266, t2, al, fs=11.5, dx=dx))
items.append(alt.layer(*L))

# ---------------- Painel 7 (confiança)
S7 = [("NS", g7_nao_sabe, NSGRAY), ("Sempre", g7_sempre, OTIMO), ("Às vezes", g7_as_vezes, REGULAR),
      ("Nunca", g7_nunca, RUIM)]
L, xs, ys = line_panel(S7, g6_rodada, (841, 1215), (0, 60), (525, 353.3), ticks=[0, 10, 20, 30, 40, 50, 60],
                       tick_lx=824, dash=(831, 841), base=(841, 1215), base_ticks=True, lw=2.5, tick_fs=8.5)
D = {n: (v, c) for n, v, c in S7}
for n, dy in [("Nunca", 0), ("Às vezes", 1), ("Sempre", 0), ("NS", -2)]:
    v, c = D[n]
    L.append(lab(xs, ys, 0, v[0], v[0], "#cccccc" if n == "NS" else c, dx=-3, dy=dy, align="right", fs=12,
                 fw="normal" if n == "NS" else "bold"))
for n, dy in [("Nunca", -9), ("Às vezes", -9), ("Sempre", -8.5), ("NS", -7)]:
    v, c = D[n]
    L.append(lab(xs, ys, 12, v[12], v[12], "#cccccc" if n == "NS" else c, dy=dy, align="center", fs=12,
                 fw="normal" if n == "NS" else "bold"))
for n, dy, name in [("Nunca", 0, "Nunca confia"), ("Às vezes", -4, "Às vezes confia"),
                    ("Sempre", 0, "Sempre confia"), ("NS", -1, "Não sabe")]:
    v, c = D[n]
    L.append(lab(xs, ys, 19, v[-1], v[-1], "#cccccc" if n == "NS" else c, dx=17, dy=dy, align="right",
                 fs=12, fw="normal" if n == "NS" else "bold"))
    L.append(lab(xs, ys, 19, v[-1], name, "#444444", dx=22, dy=dy, align="left", fs=12, fw="normal"))
for xv, t1, t2, al, dx in [(0, "ago.", "19", "center", 0), (12, "dez.", "21", "center", 0),
                           (18, "30.ago", "a 1º.set", "center", -2), (19, "8 e 9.", "set", "left", 0)]:
    L.append(xlab(xs, xv, 537, t1, al, fs=11.5, dx=dx))
    L.append(xlab(xs, xv, 550, t2, al, fs=11.5, dx=dx))
items.append(alt.layer(*L))

# ---------------- Painel 8 (grupos)
for (lula, bolso, xr, tlx, base, lab_spec) in [
    (g8_pobres_lula, g8_pobres_bolsonaro, (845, 911.7), 824, (827, 918), [("L", 5, 0, ""), ("B", 5, 0, "")]),
    (g8_mulheres_lula, g8_mulheres_bolsonaro, (1000, 1068.3), 979, (982, 1073), [("L", 3.5, 0, ""), ("B", 3.5, 0, "")]),
    (g8_evang_lula, g8_evang_bolsonaro, (1154.3, 1221.7), 1133, (1136, 1228),
     [("L", 4, 2, " Lula (PT)"), ("B", 4, 0, " Bolsonaro (PL)")]),
]:
    S8 = [("B", bolso, BOLSO), ("L", lula, LULA)]
    L, xs, ys = line_panel(S8, g8_rodada, xr, (0, 60), (836, 728.3), ticks=[0, 10, 20, 30, 40, 50, 60],
                           tick_lx=tlx, dash=(tlx + 1, tlx + 4), base=base, base_ticks=True, lw=2.5, tick_fs=8.5)
    D = {n: (v, c) for n, v, c in S8}
    for n, dx, dy, suf in lab_spec:
        v, c = D[n]
        L.append(lab(xs, ys, 5, v[-1], f"{v[-1]}{suf}", c, dx=dx, dy=dy, align="left", fs=12.5))
    L.append(xlab(xs, 0, 847, "25 e", "left", fs=12, dx=-16))
    L.append(xlab(xs, 0, 861, "26.mai", "left", fs=12, dx=-16))
    L.append(xlab(xs, 5, 847, "8 e", "right", fs=12))
    L.append(xlab(xs, 5, 861, "9.set", "right", fs=12))
    items.append(alt.layer(*L))

# ---------------- Painel 9 (decisão)
g9_x = days(g9_datas)
for (dec, mud, xr, tlx, base, yr, specs) in [
    (g9_total_decidido, g9_total_mudar, (841, 958.3), 828, (832, 968), (1160.5, 1041.5),
     [("D", 0, 3, -9), ("D", -1, 2, -9.5), ("M", 0, 3, -10), ("M", -1, 2, -9)]),
    (g9_lula_decidido, g9_lula_mudar, (1011, 1128.3), 998, (1001, 1138), (1160.5, 1041.5),
     [("D", 0, 3, -7), ("D", -1, 0, -7.5), ("M", 0, 3, -9), ("M", -1, 0, -11)]),
    (g9_bolso_decidido, g9_bolso_mudar, (841, 958.3), 828, (832, 968), (1334.3, 1216.7),
     [("D", 0, 3, -9.5), ("D", -1, 1, -11.7), ("M", 0, 3, -9), ("M", -1, 2, -7.7)]),
    (g9_ciro_decidido, g9_ciro_mudar, (1011, 1128.3), 998, (1001, 1138), (1334.3, 1216.7),
     [("M", 0, 3, -7), ("M", -1, 2, -8), ("D", 0, 3, -10), ("D", -1, 2, 11)]),
]:
    S9 = [("M", mud, MUDAR), ("D", dec, DECIDIDO)]
    L, xs, ys = line_panel(S9, g9_x, xr, (0, 100), yr, ticks=[0, 20, 40, 60, 80, 100], tick_lx=tlx,
                           dash=(tlx + 4, tlx + 7), base=base, base_ticks=True, lw=2.5, tick_fs=8)
    D = {n: (v, c) for n, v, c in S9}
    for n, i, dx, dy in specs:
        v, c = D[n]
        L.append(lab(xs, ys, g9_x[i], v[i], v[i], c, dx=dx, dy=dy, align="center", fs=12))
    ylab = yr[0] + 11
    L.append(xlab(xs, g9_x[0], ylab, "22 e 23.fev", "left", fs=11, dx=-11))
    L.append(xlab(xs, g9_x[-1], ylab, "8 e 9.set", "right", fs=11, dx=10))
    items.append(alt.layer(*L))

# ============================ TEXTOS FIXOS ============================
# manchete principal
items.append(T([(11, 71, "Lula lidera com 45%, e"), (11, 133, "Bolsonaro vai a 34% após"),
                (11, 195, "ato do 7/9, diz Datafolha")], 51.5, font=SERIF, fw="bold", color="#111111",
               baseline="alphabetic"))
items.append(T([(11, 217, "Cenário estável registra menor diferença nominal entre os rivais na"),
                (11, 241, "campanha; Ciro oscila a 7% e empata com Tebet, que mantém 5%")], 19.5, color="#333333"))
items.append(alt.Chart(pd.DataFrame({"k": [1]})).mark_rule(color="#999999").encode(
    x=alt.value(px(11)), x2=alt.value(px(33)), y=alt.value(py(265))))
items.append(T([(11, 277, "Igor Gielow")], 12.5, font=SERIF, fw="bold", color="#111111"))

# coluna central topo
items.append(T([(645, 22, "Lula lidera com 45%, e"), (645, 41, "Bolsonaro vai a 34% após"),
                (645, 59, "ato do 7/9, diz Datafolha")], 15, font=SERIF, color="#8a8a8a"))
items.append(T([(645, 101, "Continuação da pág. A4")], 9.5, fw="bold", color=BLUE_LINK, style="italic"))
items.append(T([(11, 1710, "Continua na pág. A6")], 9.5, fw="bold", color=BLUE_LINK, style="italic"))

# artigo da direita
items.append(T([(1341, 50, "Barulho do 7 de"), (1341, 105, "Setembro não foi"), (1341, 160, "suficiente para"),
                (1341, 215, "mudar trajetórias")], 44, font=SERIF, color="#111111", baseline="alphabetic"))
items.append(T([(1341, 249, "Com intenção de voto cristalizada,"), (1341, 272, "favoritos na disputa pela Presidência"),
                (1341, 295, "tentam reforçar territórios conhecidos")], 18.5, color="#333333"))
items.append(T([(1341, 330, "ANÁLISE")], 12, fw="bold", color="#d2232a"))
items.append(T([(1341, 358, "Bruno Boghossian")], 12.5, font=SERIF, fw="bold", color="#111111"))
items.append(T([(815, 1530, "Avaliação do"), (815, 1551, "presidente se"), (815, 1572, "mantém negativa")],
               18, font=SERIF, color="#111111"))

# títulos e notas dos gráficos
LIGHT = dict(fw=300, color="#444444")
items.append(T([(181, 277, "Vantagem de Lula sobre Bolsonaro recua no 1º turno"),
                (815, 20, "Avaliação do governo Bolsonaro segue estável"),
                (815, 626, "Lula X Bolsonaro por grupo"),
                (815, 937, "77% dos eleitores estão decididos sobre o voto")], 13.9, fw="bold", color="#1a1a1a"))
items.append(T([(181, 292, "Resposta estimulada, em %"), (180, 648, "Resposta única, em %"),
                (180, 841, "Votos válidos no 1º turno (excluindo brancos e nulos), em %"),
                (180, 1051, "Resposta estimulada, em %"),
                (180, 1282, "Não votariam de jeito nenhum (resposta múltipla, em %)"),
                (815, 326, "Em %"), (815, 688, "Respostas estimuladas entre quem"),
                (815, 698, "ganha até 2 salários mínimos, em %"), (970, 688, "Respostas estimuladas, em %"),
                (1123, 688, "Respostas estimuladas, em %"), (815, 957, "Em %")], 8.8, fw="bold", color="#222222"))
items.append(T([(180, 635, "Lula lidera as intenções de voto espontâneas no 1º turno"),
                (180, 829, "Votos válidos indicam 2º turno entre Lula e Bolsonaro"),
                (180, 1040, "Lula mantém 53% e Bolsonaro vai a 39% no 2º turno"),
                (180, 1267, "Bolsonaro é rejeitado por 51% dos entrevistados e Lula, por 39%"),
                (815, 305, "50% nunca confiam no que diz o presidente"),
                (815, 653, "Lula segue liderando com"), (815, 667, "folga entre mais pobres"),
                (970, 653, "Lula tem variação"), (970, 667, "negativa entre mulheres"),
                (1123, 653, "Bolsonaro amplia vantagem"), (1123, 667, "entre evangélicos"),
                (815, 1019, "Total"), (985, 1019, "Eleitores do Lula"),
                (815, 1197, "Eleitores do Bolsonaro"), (985, 1197, "Eleitores do Ciro")], 12.5, **LIGHT))
items.append(T([(815, 43, "Em %")], 11, color="#666666"))
items.append(T([(182, 514, "Votariam em Lula"), (182, 571, "Votariam em Bolsonaro")], 12, color="#444444"))
items.append(T([(366, 505, "entre"), (366, 518, "moradores"), (366, 532, "do Nordeste"),
                (490, 505, "entre quem"), (490, 518, "ganha mais"), (490, 532, "de 10 salários"),
                (366, 561, "entre"), (366, 574, "evangélicos"), (490, 561, "entre as"), (490, 574, "mulheres")],
               11.5, color="#444444"))
items.append(T([(193, 1298, "30.ago a 1º.set"), (300, 1298, "8 e 9.set")], 11, color="#333333"))
for cy, col in [(979, MUDAR), (992, DECIDIDO)]:
    items.append(alt.Chart(pd.DataFrame({"k": [1]})).mark_square(size=42, color=col, opacity=1).encode(
        x=alt.value(px(818)), y=alt.value(py(cy))))
items.append(T([(827, 979, "Voto ainda pode mudar"), (827, 992, "Está totalmente decidido")], 11, color="#333333"))
items.append(T([
    (180, 1695, "Fonte: Pesquisa Datafolha presencial com 2.676 pessoas de 16 anos ou mais em 191 municípios em 8 e 9.set;"),
    (180, 1707, "a margem de erro é de 2 pontos percentuais e o registro no TSE é BR-07422/2022"),
    (815, 578, "Fonte: Pesquisa Datafolha presencial com 2.676 pessoas de 16 anos ou mais em 191 municípios em 8 e 9.set; a margem de erro é de"),
    (815, 590, "2 pontos percentuais e o registro no TSE é BR-07422/2022"),
    (815, 888, "Fonte: Datafolha presencial com 2.676 pessoas em 8 e 9.set, com margem de erro de 3 pontos entre mais pobres e mulheres e de 4"),
    (815, 899, "pontos entre evangélicos; o registro no TSE é BR-07422/2022"),
    (815, 1364, "Fonte: Pesquisa Datafolha presencial com 2.676 pessoas de 16 anos ou mais"),
    (815, 1374, "em 191 municípios em 8 e 9.set; a margem de erro é de 2 pontos percentuais"),
    (815, 1384, "e o registro no TSE é BR-07422/2022")], 8.8, fw=300, color="#666666"))

# corpo de texto
for lines, x, y0, y1 in [(COL_ESQ, 11, 305, 1697), (COL_MEIO, 645, 115, 1708), (COL_C, 1155, 936, 1708),
                         (COL_A1, 815, 1423, 1478), (COL_A2, 815, 1602, 1708), (COL_B, 985, 1423, 1708),
                         (COL_R1, 1341, 386, 1708), (COL_R2, 1506, 330, 1708)]:
    out, step = body(lines, x, y0, y1)
    items.extend(out)
items.append(T([(1312, 1708, "Felipe Bächtold")], 12.4, font=SERIF, fw="bold", color="#1c1c1c", align="right"))

chart = alt.layer(*items).resolve_scale(x="independent", y="independent").properties(
    width=W, height=H, padding=0, autosize=alt.AutoSizeParams(type="none"), background="white"
).configure_view(stroke=None)

chart.save("out.html", embed_options={"renderer": "svg", "actions": False})
